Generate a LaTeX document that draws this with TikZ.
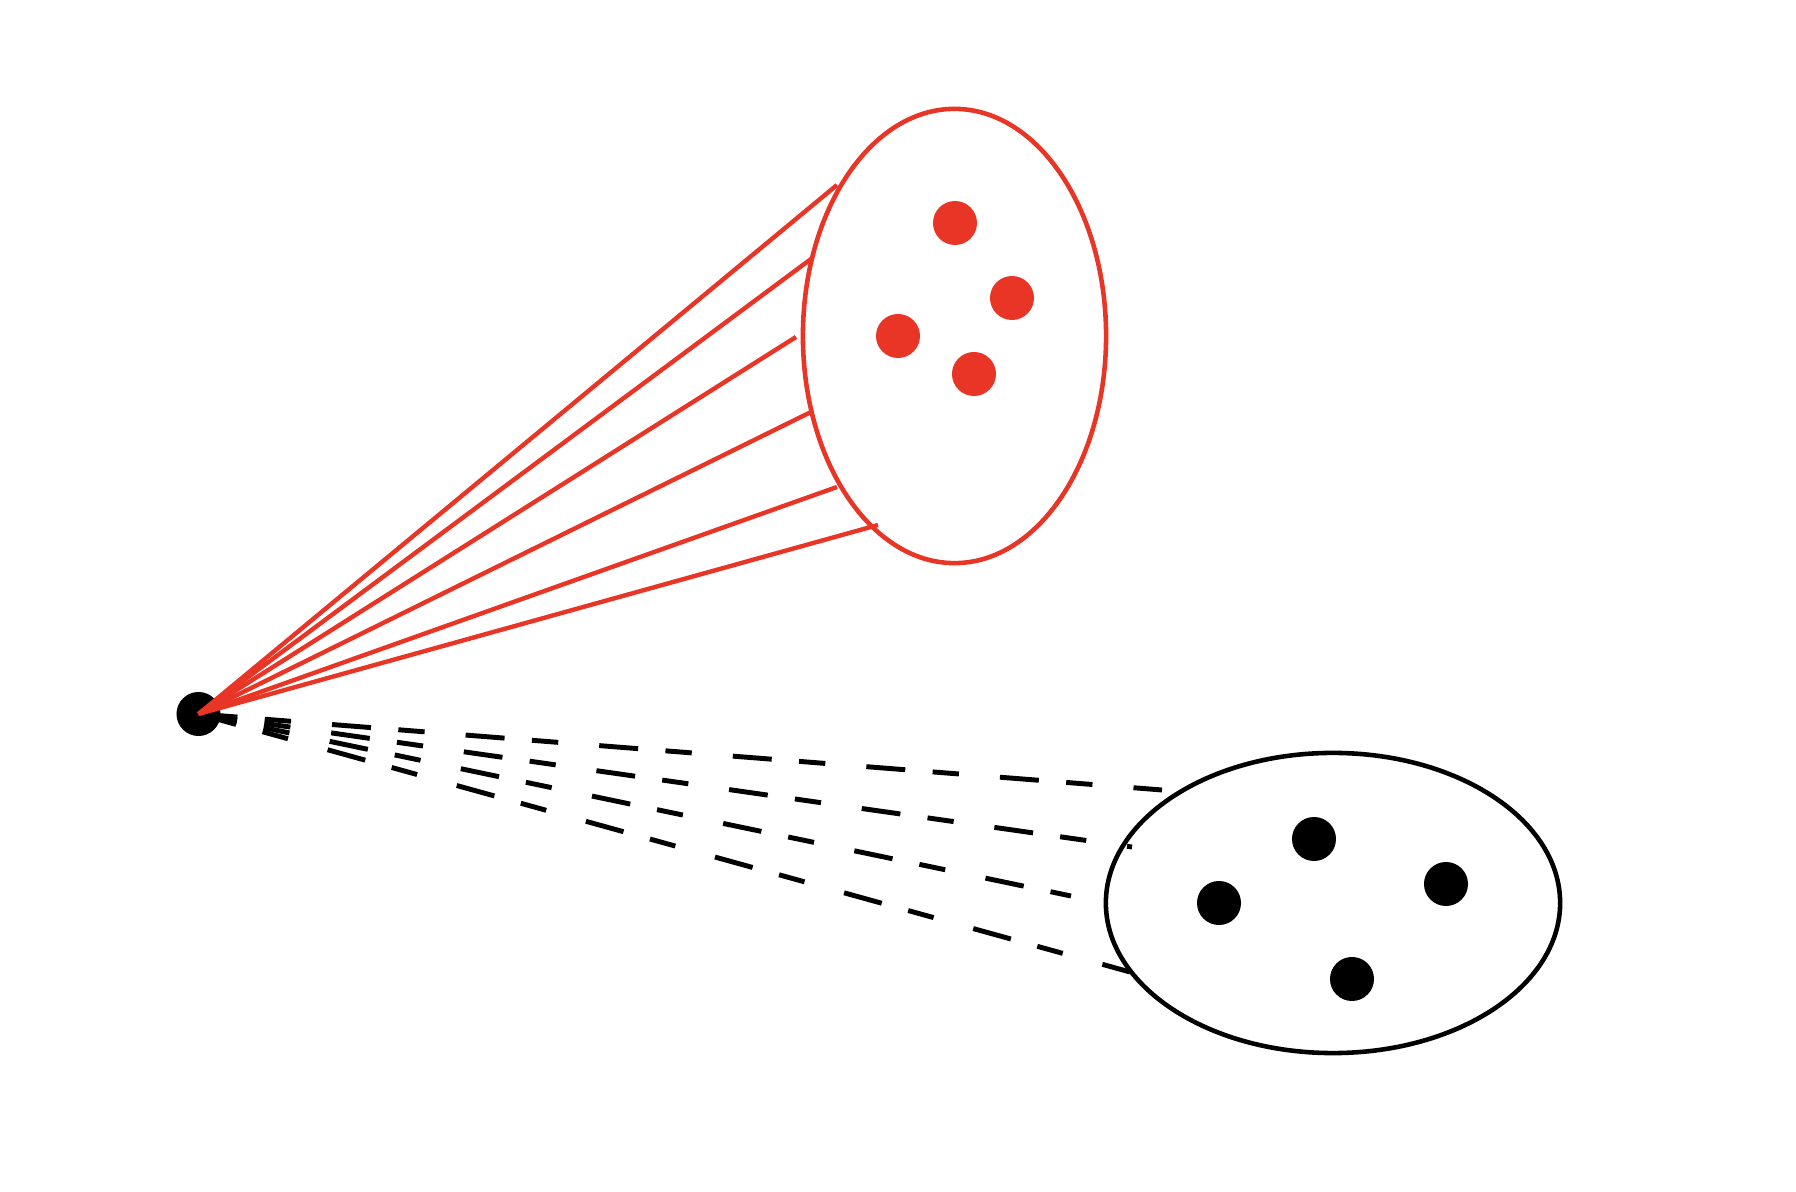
\documentclass[tikz,border=0pt]{standalone}
\usetikzlibrary{shapes.geometric}
\definecolor{myred}{RGB}{233,53,38}
\begin{document}
\begin{tikzpicture}[x=0.01cm,y=-0.01cm,
  reddot/.style={circle,fill=myred,draw=none,minimum size=0.44cm,inner sep=0pt},
  blackdot/.style={circle,fill=black,draw=none,minimum size=0.44cm,inner sep=0pt},
  redell/.style={ellipse,draw=myred,line width=1.3pt,minimum width=3.03cm,minimum height=4.54cm,inner sep=0pt},
  blackell/.style={ellipse,draw=black,line width=1.3pt,minimum width=4.54cm,minimum height=3.0cm,inner sep=0pt},
  redline/.style={draw=myred,line width=1.25pt},
  dashline/.style={draw=black,line width=1.4pt,dash pattern=on 11.1pt off 7.8pt on 7.5pt off 11.7pt}]
\useasboundingbox (0,0) rectangle (1796,1192);
% ellipses
\node[redell] (E1) at (954.5,336) {};
\node[blackell] (E2) at (1333,903) {};
% dots inside
\node[reddot] (r-a) at (955,223) {};
\node[reddot] (r-b) at (1012,298) {};
\node[reddot] (r-c) at (898,336) {};
\node[reddot] (r-d) at (974,374) {};
\node[blackdot] (k-a) at (1314,839) {};
\node[blackdot] (k-b) at (1446,884) {};
\node[blackdot] (k-c) at (1219,903) {};
\node[blackdot] (k-d) at (1352,979) {};
% source point
\node[blackdot] (src) at (198.5,714) {};
% end points
\coordinate (r1) at (837,185);
\coordinate (r2) at (811,259);
\coordinate (r3) at (796,337);
\coordinate (r4) at (811,412);
\coordinate (r5) at (837,487);
\coordinate (r6) at (878,525);
\coordinate (b1) at (1162,790);
\coordinate (b2) at (1132,847);
\coordinate (b3) at (1071,896);
\coordinate (b4) at (1130,972);
% dashed black lines
\foreach \e in {b1,b2,b3,b4}
  \draw[dashline] (src.center) -- (\e);
% red lines
\foreach \e in {r1,r2,r3,r4,r5,r6}
  \draw[redline] (src.center) -- (\e);
\end{tikzpicture}
\end{document}
